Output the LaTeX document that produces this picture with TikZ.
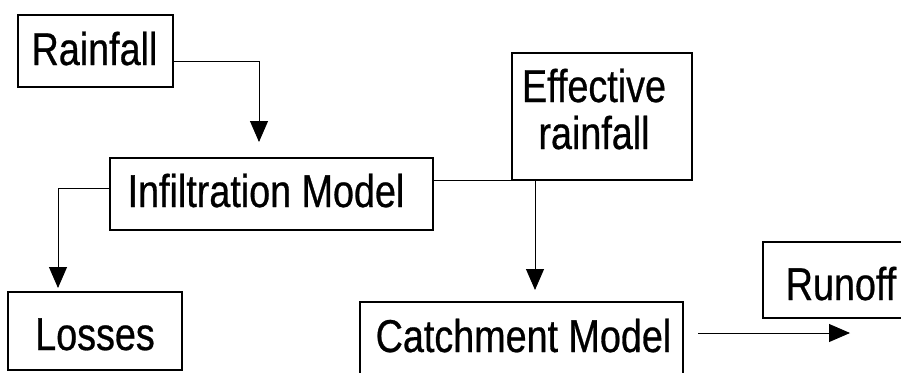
\documentclass[tikz,border=0pt]{standalone}
\usepackage{fontspec}
\setmainfont{Liberation Sans}[FakeStretch=0.82,FakeBold=0.6]
\usetikzlibrary{arrows.meta}
\tikzset{
  box/.style={draw, line width=1.3pt, inner sep=0pt, outer sep=0pt},
  txt/.style={inner sep=0pt, outer sep=0pt, anchor=base, font=\fontsize{46}{47}\selectfont},
  conn/.style={line width=0.9pt},
  arr/.style={conn, -{Triangle[length=21pt,width=18pt]}},
}
\begin{document}
\begin{tikzpicture}[x=1pt,y=-1pt]
\useasboundingbox (0,0) rectangle (901,372);
\clip (0,0) rectangle (901,372);
% boxes
\node[box, minimum width=155pt, minimum height=72pt] (rain) at (95.5,51) {};
\node[box, minimum width=323pt, minimum height=72pt] (infil) at (271.5,194) {};
\node[box, minimum width=180pt, minimum height=127pt] (eff) at (602,116.5) {};
\node[box, minimum width=174pt, minimum height=78pt] (loss) at (95,331) {};
\node[box, minimum width=323pt, minimum height=93pt] (catch) at (521.5,348.5) {};
\node[box, minimum width=167pt, minimum height=76pt] (run) at (846.5,280) {};
% texts
\node[txt] (raintxt) at (94.5,65) {Rainfall};
\node[txt] (infiltxt) at (266,207) {Infiltration Model};
\node[txt] (efftxt1) at (594,102) {Effective};
\node[txt] (efftxt2) at (594,149) {rainfall};
\node[txt] (losstxt) at (95,350) {Losses};
\node[txt] (catchtxt) at (523.5,352) {Catchment Model};
\node[txt] (runtxt) at (841,300) {Runoff};
\coordinate (runend) at (850,333);
% connectors
\draw[arr, shorten >=16pt] ([yshift=-10pt]rain.east) -| ([xshift=-12.5pt]infil.north);
\draw[arr, shorten >=4pt] ([yshift=6pt]infil.west) -| ([xshift=-37pt]loss.north);
\draw[conn] (infil.east |- eff.south) -- (eff.south west);
\draw[arr, shorten >=12pt] ([xshift=-67pt]eff.south) -- ([xshift=-67pt]eff.south |- catch.north);
\draw[arr, shorten <=15pt] ([yshift=15.5pt]catch.east) -- (runend);
\end{tikzpicture}
\end{document}
